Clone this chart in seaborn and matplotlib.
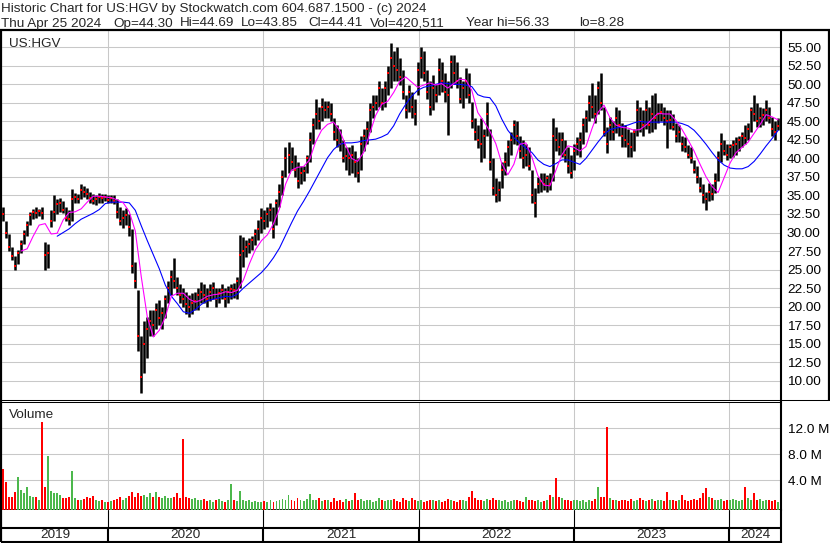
import numpy as np
import pandas as pd
import matplotlib
matplotlib.use("Agg")
import matplotlib.pyplot as plt
import matplotlib.dates as mdates
from matplotlib.ticker import FuncFormatter
import seaborn as sns

sns.set_style("white")
plt.rcParams["font.family"] = ["Liberation Sans", "DejaVu Sans"]

# ---------- data (one bar per week) ----------
week_start = "2019-04-30"
week_end = "2024-04-25"

price_low = [
    31.5, 29.3, 27.5, 26.3, 25.0, 25.8, 27.2, 28.5, 29.5, 31.0,
    31.8, 32.0, 32.2, 31.8, 25.0, 25.2, 30.8, 31.5, 32.5, 32.8,
    32.6, 31.5, 31.0, 31.5, 34.0, 34.0, 34.5, 34.8, 34.5, 34.0,
    33.8, 33.7, 34.0, 34.0, 34.2, 34.0, 34.0, 33.8, 32.0, 31.0,
    30.6, 31.0, 29.5, 24.5, 22.5, 14.0, 8.3, 11.0, 13.0, 16.0,
    16.0, 17.0, 17.5, 17.0, 18.5, 20.5, 21.5, 22.5, 21.5, 20.5,
    20.0, 19.0, 18.6, 19.0, 19.5, 19.5, 20.5, 20.5, 20.0, 20.8,
    21.0, 20.0, 20.5, 21.0, 20.0, 20.5, 21.0, 21.2, 21.0, 22.5,
    25.4, 26.7, 27.3, 27.7, 28.3, 29.0, 30.0, 30.5, 30.8, 31.5,
    29.3, 31.0, 33.5, 35.0, 37.5, 38.0, 38.5, 37.5, 36.0, 36.5,
    37.0, 38.0, 39.5, 42.0, 44.0, 44.0, 45.0, 45.5, 45.5, 45.0,
    42.5, 41.5, 41.0, 39.5, 38.5, 37.8, 38.0, 37.5, 36.8, 38.5,
    41.0, 42.0, 43.5, 45.5, 46.5, 47.0, 46.5, 47.0, 48.5, 49.5,
    50.5, 50.5, 49.9, 48.0, 45.5, 46.3, 45.5, 44.5, 48.5, 50.9,
    50.5, 48.0, 45.9, 46.5, 47.6, 48.5, 49.0, 47.6, 43.2, 49.5,
    50.0, 49.5, 47.5, 46.8, 48.2, 47.5, 44.1, 42.5, 41.4, 39.5,
    40.0, 43.0, 38.5, 35.0, 34.1, 34.3, 36.0, 37.8, 39.0, 40.5,
    42.0, 41.8, 40.0, 38.7, 39.0, 38.4, 34.0, 32.1, 35.3, 35.5,
    35.8, 35.5, 35.7, 37.0, 41.0, 40.5, 40.2, 39.5, 38.0, 37.3,
    38.5, 40.5, 40.2, 42.0, 43.5, 45.0, 45.5, 44.8, 46.0, 46.5,
    43.0, 40.7, 42.5, 42.5, 43.4, 43.0, 41.5, 41.5, 40.2, 40.2,
    41.0, 43.0, 43.5, 43.0, 44.0, 43.4, 43.5, 44.0, 44.8, 45.0,
    44.5, 41.4, 44.0, 43.8, 42.2, 42.2, 41.0, 40.9, 40.0, 39.4,
    38.0, 36.7, 35.5, 34.0, 33.0, 34.2, 34.4, 35.3, 37.0, 39.5,
    40.5, 39.8, 40.0, 40.2, 40.5, 41.0, 41.5, 42.0, 42.5, 43.5,
    45.0, 44.2, 44.2, 44.5, 45.0, 44.8, 43.0, 42.5, 43.8,
]

price_high = [
    33.5, 31.5, 29.8, 28.0, 26.8, 27.6, 29.0, 30.3, 31.5, 32.8,
    33.2, 33.4, 33.2, 33.5, 28.7, 28.5, 33.0, 35.0, 34.5, 34.7,
    34.2, 33.5, 33.0, 35.9, 35.3, 35.2, 36.6, 36.3, 36.0, 35.5,
    35.2, 35.0, 35.3, 35.2, 35.2, 35.0, 35.0, 35.0, 34.5, 33.5,
    33.0, 33.3, 32.5, 30.5, 26.0, 22.3, 16.0, 18.0, 18.6, 19.5,
    19.5, 20.5, 20.9, 20.0, 21.5, 23.5, 25.0, 26.5, 24.0, 23.0,
    22.5, 22.0, 21.5, 21.8, 22.0, 22.5, 23.3, 23.0, 22.5, 23.0,
    23.3, 22.5, 22.5, 23.0, 22.5, 22.8, 23.0, 23.2, 24.0, 29.7,
    29.4, 29.0, 29.2, 29.5, 30.5, 31.7, 33.3, 33.0, 33.5, 34.0,
    33.5, 34.5, 36.5, 38.5, 41.5, 42.2, 41.5, 40.5, 39.5, 39.0,
    39.0, 40.5, 43.5, 45.5, 48.0, 47.0, 48.2, 47.8, 47.8, 47.5,
    45.5, 44.5, 44.0, 42.5, 41.5, 41.5, 41.8, 41.0, 40.0, 43.0,
    44.0, 45.0, 47.5, 48.5, 48.5, 50.5, 49.5, 50.5, 52.5, 55.6,
    54.5, 55.0, 53.5, 52.0, 48.5, 49.9, 49.0, 48.0, 53.0, 55.0,
    54.5, 52.0, 50.5, 51.3, 50.0, 53.5, 53.0, 51.5, 50.5, 54.0,
    54.0, 53.0, 51.0, 50.5, 52.2, 51.5, 47.6, 45.5, 44.5, 45.5,
    44.0, 47.6, 44.0, 40.0, 37.3, 37.0, 39.5, 40.9, 42.5, 43.6,
    45.2, 45.0, 43.0, 42.5, 42.0, 41.5, 38.4, 36.0, 37.5, 38.0,
    38.0, 37.8, 38.0, 45.5, 44.2, 43.5, 43.5, 42.5, 41.5, 40.5,
    42.0, 42.9, 43.5, 45.5, 46.5, 48.5, 50.2, 48.5, 50.5, 51.5,
    47.0, 44.2, 45.6, 45.0, 47.0, 46.5, 44.8, 44.5, 44.0, 43.5,
    44.0, 47.9, 47.0, 46.5, 47.9, 47.0, 48.5, 48.8, 47.5, 47.5,
    47.0, 46.5, 46.5, 46.0, 44.8, 44.5, 43.0, 42.9, 41.8, 41.5,
    39.8, 39.0, 37.5, 36.5, 35.5, 36.7, 36.5, 38.0, 41.0, 43.4,
    42.5, 42.0, 42.0, 42.5, 42.9, 43.0, 43.5, 44.5, 44.8, 47.0,
    48.6, 47.5, 47.0, 46.8, 47.9, 47.0, 45.6, 45.0, 45.5,
]

price_close = [
    32.5, 30.0, 28.0, 26.8, 25.5, 27.2, 28.5, 29.8, 31.0, 32.3,
    32.8, 32.6, 32.9, 32.7, 27.0, 27.3, 31.5, 32.8, 33.8, 34.0,
    33.0, 32.0, 31.8, 34.5, 34.8, 34.5, 35.8, 35.5, 35.2, 34.6,
    34.3, 34.5, 34.8, 34.6, 34.8, 34.4, 34.6, 34.2, 32.8, 31.6,
    32.0, 32.4, 30.8, 25.5, 23.5, 16.0, 10.5, 15.0, 17.0, 18.0,
    17.5, 19.5, 18.5, 19.2, 21.0, 22.5, 24.0, 23.5, 22.5, 21.5,
    21.0, 20.3, 20.0, 20.5, 20.8, 21.5, 22.0, 21.5, 21.0, 22.0,
    22.5, 21.0, 21.8, 22.2, 21.0, 22.0, 22.4, 22.3, 23.5, 27.0,
    27.5, 28.0, 28.5, 29.0, 29.8, 30.5, 32.0, 31.5, 32.5, 33.0,
    30.5, 34.0, 35.5, 37.5, 40.0, 40.5, 39.5, 38.5, 37.0, 38.0,
    38.3, 40.0, 42.5, 44.5, 46.0, 45.0, 47.0, 46.5, 47.0, 46.0,
    43.5, 42.5, 42.0, 40.0, 40.3, 40.0, 40.5, 39.5, 38.0, 42.0,
    43.0, 44.0, 46.5, 47.0, 47.5, 49.5, 47.5, 49.5, 51.5, 53.5,
    52.5, 52.0, 51.0, 49.0, 46.5, 49.0, 47.0, 46.0, 52.0, 53.5,
    51.5, 49.0, 47.0, 49.5, 48.5, 52.0, 50.5, 49.0, 48.5, 53.0,
    51.5, 50.5, 48.0, 49.5, 50.5, 48.5, 45.0, 43.5, 42.5, 42.0,
    43.0, 46.0, 39.5, 36.0, 35.0, 35.8, 38.5, 39.5, 41.5, 42.5,
    44.5, 43.0, 41.0, 40.0, 40.5, 39.0, 35.0, 34.0, 36.5, 37.0,
    36.5, 37.3, 36.5, 43.0, 42.5, 41.5, 42.5, 40.5, 39.0, 38.0,
    41.0, 42.0, 42.5, 44.5, 45.5, 47.5, 47.0, 46.0, 49.5, 47.5,
    43.5, 42.0, 44.5, 43.5, 45.5, 44.5, 43.0, 42.5, 42.0, 41.5,
    43.5, 46.5, 45.0, 44.5, 46.5, 44.5, 46.0, 45.5, 46.0, 46.3,
    45.5, 45.0, 45.2, 44.3, 43.0, 43.5, 42.0, 41.5, 40.5, 40.0,
    38.5, 37.5, 36.0, 35.0, 34.5, 35.5, 35.2, 37.0, 40.0, 42.0,
    41.0, 40.5, 41.5, 41.8, 42.0, 42.5, 43.0, 42.8, 44.0, 46.5,
    46.0, 45.0, 45.5, 45.8, 46.5, 45.5, 44.0, 43.5, 44.4,
]

# volume in millions of shares (typical day of each week)
volume_m = [
    5.7, 3.7, 1.5, 1.4, 2.2, 4.5, 2.5, 2.0, 3.0, 1.6,
    1.4, 1.5, 1.0, 13.0, 3.0, 7.7, 2.3, 2.1, 2.0, 1.8,
    1.3, 1.2, 1.5, 5.4, 1.2, 1.0, 0.9, 1.1, 1.4, 1.2,
    1.6, 1.0, 0.8, 0.9, 0.7, 0.6, 0.8, 0.9, 1.1, 1.5,
    1.0, 1.3, 1.6, 2.2, 1.5, 2.0, 1.6, 1.8, 1.5, 2.0,
    1.4, 2.2, 1.5, 1.2, 1.6, 1.3, 1.2, 1.5, 2.0, 1.3,
    10.4, 1.4, 1.3, 1.1, 1.2, 1.0, 0.9, 1.1, 0.8, 1.0,
    0.7, 0.9, 1.1, 0.8, 0.7, 0.9, 3.4, 1.0, 0.8, 2.3,
    1.0, 0.8, 0.9, 0.7, 0.8, 0.6, 0.7, 0.8, 0.7, 0.9,
    0.6, 0.8, 0.9, 1.1, 1.0, 1.8, 0.9, 0.8, 1.2, 1.0,
    0.8, 1.1, 1.9, 1.0, 0.9, 1.3, 0.8, 0.9, 1.0, 0.7,
    1.2, 0.8, 0.9, 0.7, 1.1, 0.8, 0.9, 2.1, 1.0, 1.1,
    0.8, 0.9, 1.0, 0.7, 0.8, 1.2, 0.9, 0.8, 1.0, 0.9,
    1.1, 0.8, 0.7, 1.2, 0.9, 0.8, 1.3, 0.9, 0.8, 1.0,
    0.7, 0.8, 1.0, 0.9, 0.8, 0.9, 0.7, 0.8, 1.1, 0.9,
    0.8, 0.7, 1.0, 1.0, 0.8, 1.4, 2.4, 1.3, 1.0, 0.9,
    0.8, 1.1, 1.0, 1.2, 0.9, 1.0, 0.8, 0.9, 0.7, 0.8,
    0.9, 1.0, 0.8, 0.7, 1.4, 1.0, 0.9, 0.8, 1.0, 0.7,
    0.8, 0.9, 1.8, 1.5, 4.4, 1.4, 1.2, 0.9, 1.0, 0.8,
    0.9, 1.0, 0.8, 0.9, 0.7, 1.0, 0.8, 1.1, 3.0, 1.5,
    1.4, 12.2, 1.2, 1.0, 0.9, 0.8, 1.0, 0.9, 0.8, 1.1,
    0.8, 0.9, 1.2, 1.0, 0.8, 0.9, 1.1, 0.8, 1.0, 0.9,
    0.8, 2.2, 1.0, 0.9, 0.8, 1.0, 1.8, 0.9, 0.8, 1.0,
    1.1, 0.9, 1.3, 2.0, 2.8, 1.4, 1.2, 1.0, 0.9, 1.1,
    0.8, 0.9, 1.0, 1.1, 0.9, 0.8, 1.0, 3.0, 1.2, 1.0,
    2.0, 0.9, 1.1, 0.8, 0.9, 1.0, 0.8, 0.9, 0.7,
]

# moving averages, read every second week (None = not drawn yet)
ma_fast = [
    None, None, None, 27.5, 27.8, 29.5, 31.0, 31.2, 29.8, 29.9,
    31.7, 32.7, 32.8, 33.2, 34.1, 34.9, 34.9, 34.8, 34.7, 34.4,
    34.0, 32.8, 30.2, 24.0, 18.6, 15.9, 16.8, 18.6, 21.4, 21.8,
    21.8, 21.0, 20.6, 20.9, 21.4, 21.6, 21.7, 22.0, 21.9, 22.2,
    23.6, 25.8, 27.7, 28.9, 29.7, 31.2, 33.2, 36.5, 38.4, 38.8,
    38.9, 39.8, 42.2, 43.8, 44.6, 44.9, 43.8, 41.8, 40.0, 39.6,
    40.8, 43.3, 45.8, 47.3, 47.7, 48.9, 50.4, 51.0, 50.3, 49.6,
    49.9, 50.2, 49.9, 50.1, 49.5, 50.1, 50.7, 50.6, 49.2, 46.2,
    45.0, 43.7, 42.0, 39.3, 37.8, 39.2, 41.9, 42.1, 40.2, 37.7,
    36.4, 36.3, 38.4, 40.5, 41.7, 41.5, 41.0, 41.6, 44.0, 46.2,
    47.2, 45.5, 44.5, 44.2, 44.1, 43.8, 43.9, 44.5, 45.3, 46.1,
    46.0, 46.0, 45.1, 43.9, 42.5, 41.0, 39.2, 37.5, 36.2, 35.4,
    37.4, 39.4, 40.8, 41.5, 42.2, 43.4, 44.6, 45.9, 45.6, 45.2,
]

ma_slow = [
    None, None, None, None, None, None, None, None, None, 29.5,
    30.0, 30.5, 31.2, 31.8, 32.2, 32.6, 33.1, 33.9, 34.1, 34.1,
    34.1, 34.0, 33.0, 30.9, 28.9, 27.0, 25.1, 22.9, 21.4, 20.4,
    19.3, 19.1, 19.6, 20.3, 20.8, 21.0, 21.2, 21.4, 21.3, 21.7,
    22.5, 23.2, 23.9, 24.6, 25.5, 26.6, 27.9, 29.6, 31.3, 32.9,
    34.2, 35.6, 37.1, 38.6, 40.1, 41.2, 41.9, 42.1, 42.1, 42.2,
    42.4, 42.5, 42.6, 42.9, 43.3, 44.4, 46.0, 47.3, 48.4, 49.2,
    49.6, 49.8, 50.0, 50.2, 50.1, 50.0, 50.0, 49.9, 49.7, 48.6,
    48.3, 48.2, 47.1, 45.3, 43.8, 42.8, 42.1, 41.4, 40.8, 39.8,
    39.2, 38.9, 39.3, 39.8, 39.8, 39.5, 39.2, 40.0, 41.1, 42.2,
    43.2, 43.9, 44.1, 44.3, 44.5, 44.8, 45.0, 44.9, 44.9, 44.9,
    44.9, 44.9, 44.9, 44.7, 44.4, 43.8, 42.9, 41.9, 40.8, 39.8,
    39.1, 38.7, 38.6, 38.6, 38.9, 39.6, 40.6, 41.7, 42.7, 43.8,
]

years = [2019, 2020, 2021, 2022, 2023, 2024]
price_ticks = [10.0, 12.5, 15.0, 17.5, 20.0, 22.5, 25.0, 27.5, 30.0, 32.5,
               35.0, 37.5, 40.0, 42.5, 45.0, 47.5, 50.0, 52.5, 55.0]
volume_ticks = [4.0, 8.0, 12.0]

title_line1 = "Historic Chart for US:HGV by Stockwatch.com 604.687.1500 - (c) 2024"
quote_fields = ["Thu Apr 25 2024", "Op=44.30", "Hi=44.69", "Lo=43.85",
                "Cl=44.41", "Vol=420,511", "Year hi=56.33", "lo=8.28"]
symbol = "US:HGV"

# ---------- frames ----------
W, H = 830, 543
fig = plt.figure(figsize=(W / 100, H / 100), dpi=100)
fig.patch.set_facecolor("white")


def px_axes(x0, y0, x1, y1):
    return fig.add_axes([x0 / W, 1 - y1 / H, (x1 - x0) / W, (y1 - y0) / H])


ax_p = px_axes(2, 31, 781, 399.5)
ax_v = px_axes(2, 401.5, 781, 510)
ax_y = px_axes(2, 510, 781, 541.5)

x_lo = pd.Timestamp("2019-04-27 10:00")
x_hi = pd.Timestamp("2024-05-01 14:00")
year_starts = [pd.Timestamp(f"{y}-01-01") for y in years]

GRID = "#c8c8c8"
FS = 9.7

dates = pd.date_range(week_start, week_end, periods=len(price_close))
ma_dates = dates[::2]

# ---------- price panel ----------
ax_p.vlines(dates, price_low, price_high, color="black", lw=1.8, zorder=3)
ax_p.plot(dates, price_close, ls="none", marker="s", ms=2.1, mew=0,
          color="red", zorder=4)

ma_df = pd.DataFrame({"date": ma_dates,
                      "fast": np.array(ma_fast, dtype=float),
                      "slow": np.array(ma_slow, dtype=float)})
sns.lineplot(data=ma_df, x="date", y="slow", ax=ax_p, color="#0000ff",
             lw=0.8, zorder=5)
sns.lineplot(data=ma_df, x="date", y="fast", ax=ax_p, color="#ff00ff",
             lw=0.8, zorder=5)

ax_p.set_xlim(x_lo, x_hi)
ax_p.set_ylim(7.46, 57.2)
ax_p.set_yticks(price_ticks)
ax_p.yaxis.tick_right()
ax_p.yaxis.set_major_formatter(FuncFormatter(lambda v, _: f"{v:.2f}"))
ax_p.tick_params(axis="y", length=0, pad=4.3, labelsize=FS, colors="black")
ax_p.set_xticks([])
ax_p.grid(axis="y", color=GRID, lw=0.75, zorder=0)
for ys in year_starts[1:]:
    ax_p.axvline(ys, color=GRID, lw=0.75, zorder=0)
ax_p.set_xlabel("")
ax_p.set_ylabel("")

# ---------- volume panel ----------
off = 0.57
vol = np.array(volume_m)
up = np.diff(np.array(price_close), prepend=np.inf) >= 0
vol_colors = np.where(up, "#4cb84c", "#ff0000")
ax_v.bar(dates, vol + off, bottom=-off, width=4.6, color=vol_colors,
         linewidth=0, zorder=3)
ax_v.set_xlim(x_lo, x_hi)
ax_v.set_ylim(-off, 16.12)
ax_v.set_yticks(volume_ticks)
ax_v.yaxis.tick_right()
ax_v.yaxis.set_major_formatter(FuncFormatter(lambda v, _: f"{v:.1f} M"))
ax_v.tick_params(axis="y", length=0, pad=4.8, labelsize=FS, colors="black")
ax_v.set_xticks([])
ax_v.grid(axis="y", color=GRID, lw=0.75, zorder=0)
for ys in year_starts[1:]:
    ax_v.axvline(ys, color=GRID, lw=0.75, zorder=0)

# ---------- year strip ----------
ax_y.set_xlim(x_lo, x_hi)
ax_y.set_ylim(0, 1)
ax_y.set_xticks([])
ax_y.set_yticks([])
split = 0.444
ax_y.axhline(split, color="black", lw=1.5)
for ys in year_starts[1:]:
    ax_y.axvline(ys, ymin=split, ymax=1, color="black", lw=0.8)
    ax_y.axvline(ys, ymin=0, ymax=split, color="black", lw=1.5)
bounds = [x_lo] + year_starts[1:] + [x_hi]
for y, a, b in zip(years, bounds[:-1], bounds[1:]):
    mid = mdates.num2date((mdates.date2num(a) + mdates.date2num(b)) / 2)
    ax_y.text(mid, split / 2, str(y), ha="center", va="center", fontsize=FS)

# spines
for ax in (ax_p, ax_v, ax_y):
    for s in ax.spines.values():
        s.set_color("black")
    ax.spines["left"].set_visible(False)
    ax.spines["right"].set_linewidth(1.5)
ax_p.spines["top"].set_visible(False)
ax_p.spines["bottom"].set_linewidth(0.75)
ax_v.spines["top"].set_linewidth(0.75)
ax_v.spines["bottom"].set_linewidth(1.2)
ax_y.spines["top"].set_visible(False)
ax_y.spines["bottom"].set_linewidth(1.5)

# ---------- outer frame and texts (pixel overlay) ----------
ax_o = fig.add_axes([0, 0, 1, 1], zorder=10)
ax_o.set_xlim(0, W)
ax_o.set_ylim(H, 0)
ax_o.axis("off")
ax_o.patch.set_alpha(0)
ax_o.plot([0, W], [30, 30], color="black", lw=1.6, solid_capstyle="butt")
ax_o.plot([1, 1], [30, 542], color="black", lw=1.6, solid_capstyle="butt")
ax_o.plot([828.5, 828.5], [30, 400.5], color="black", lw=1.6, solid_capstyle="butt")
ax_o.plot([781, 829], [400, 400], color="black", lw=0.75, solid_capstyle="butt")

ax_o.text(1, 12, title_line1, fontsize=FS, va="baseline", ha="left")
field_x = [1, 113, 180, 241, 308, 370, 466, 579]
for fx, field in zip(field_x, quote_fields):
    ax_o.text(fx, 26.5, field, fontsize=FS, va="baseline", ha="left")
ax_o.text(9, 47, symbol, fontsize=FS, va="baseline", ha="left")
ax_o.text(9, 418, "Volume", fontsize=FS, va="baseline", ha="left")

fig.savefig("out.png", dpi=100, facecolor="white")
